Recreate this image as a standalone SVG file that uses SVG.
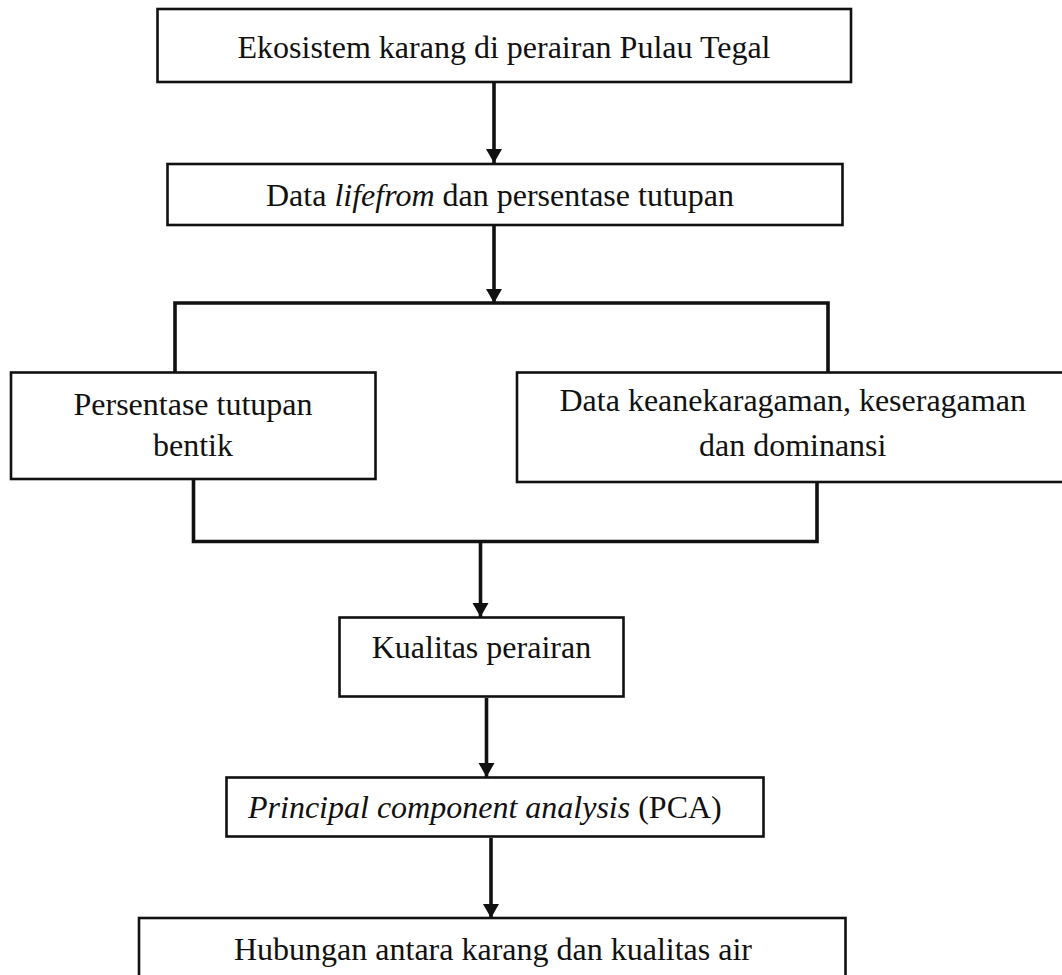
<svg xmlns="http://www.w3.org/2000/svg" width="1062" height="975" viewBox="0 0 1062 975">
<style>
.box{fill:#fff;stroke:#111;stroke-width:2.6}
.t{font-family:"Liberation Serif","Times New Roman",serif;font-size:32px;fill:#111}
.c{text-anchor:middle}
.i{font-style:italic}
.ln{fill:none;stroke:#111;stroke-width:3.6;stroke-linecap:square}
</style>
<defs>
<marker id="ah" markerUnits="userSpaceOnUse" viewBox="0 0 16 14" refX="8" refY="14" markerWidth="16" markerHeight="14" orient="auto-start-reverse">
<path d="M0,0 L16,0 L8,14 Z" fill="#111"/>
</marker>
</defs>
<rect width="1062" height="975" fill="#fff"/>
<g id="connectors">
<line class="ln" x1="494" y1="83" x2="494" y2="163" style="stroke-linecap:butt"/>
<path d="M486,149 L502,149 L494,163 Z" fill="#111"/>
<line class="ln" x1="494" y1="226" x2="494" y2="303" style="stroke-linecap:butt"/>
<path d="M486,289 L502,289 L494,303 Z" fill="#111"/>
<polyline class="ln" points="175,372 175,303 828,303 828,372"/>
<polyline class="ln" points="193.5,480 193.5,541.5 817,541.5 817,483"/>
<line class="ln" x1="480.5" y1="541.5" x2="480.5" y2="617" style="stroke-linecap:butt"/>
<path d="M472.5,603 L488.5,603 L480.5,617 Z" fill="#111"/>
<line class="ln" x1="486.5" y1="698" x2="486.5" y2="777" style="stroke-linecap:butt"/>
<path d="M478.5,763 L494.5,763 L486.5,777 Z" fill="#111"/>
<line class="ln" x1="491" y1="838" x2="491" y2="918" style="stroke-linecap:butt"/>
<path d="M483,904 L499,904 L491,918 Z" fill="#111"/>
</g>
<g id="n1">
<rect class="box" x="157.5" y="9" width="693.5" height="73"/>
<text class="t c" x="504" y="57.5">Ekosistem karang di perairan Pulau Tegal</text>
</g>
<g id="n2">
<rect class="box" x="167.5" y="164" width="675" height="61"/>
<text class="t c" x="500" y="206">Data <tspan class="i">lifefrom</tspan> dan persentase tutupan</text>
</g>
<g id="n3">
<rect class="box" x="11" y="372.5" width="364.5" height="106.5"/>
<text class="t c" x="193" y="415">Persentase tutupan</text>
<text class="t c" x="193" y="456">bentik</text>
</g>
<g id="n4">
<rect class="box" x="517" y="372.5" width="552" height="109.5"/>
<text class="t c" x="792.7" y="411">Data keanekaragaman, keseragaman</text>
<text class="t c" x="792.7" y="456">dan dominansi</text>
</g>
<g id="n5">
<rect class="box" x="339.5" y="617.5" width="284" height="79"/>
<text class="t c" x="481.4" y="658">Kualitas perairan</text>
</g>
<g id="n6">
<rect class="box" x="226.5" y="777.5" width="537" height="59"/>
<text class="t" x="248" y="818"><tspan class="i">Principal component analysis</tspan> (PCA)</text>
</g>
<g id="n7">
<rect class="box" x="139" y="918" width="706.5" height="70"/>
<text class="t c" x="493" y="960">Hubungan antara karang dan kualitas air</text>
</g>
</svg>
